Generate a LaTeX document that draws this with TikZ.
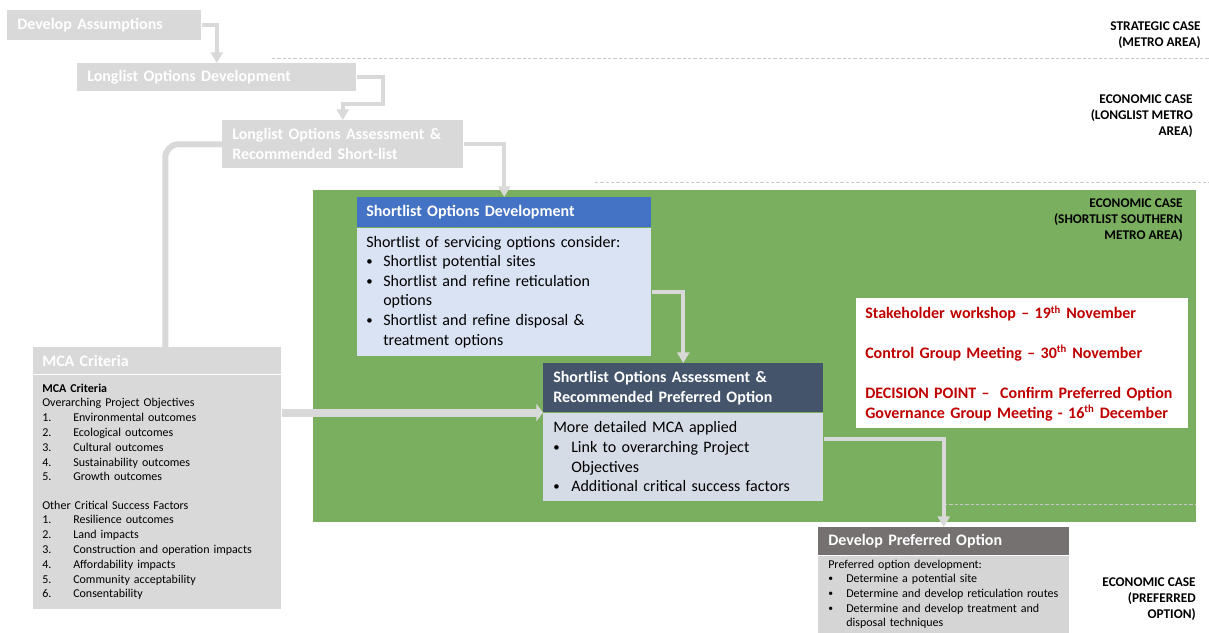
\documentclass[tikz,border=0pt]{standalone}
\usepackage{fontspec}
\setmainfont{Carlito}
\usetikzlibrary{positioning,arrows.meta}

\definecolor{boxgray}{HTML}{D9D9D9}
\definecolor{casegreen}{HTML}{79AF5E}
\definecolor{hdrblue}{HTML}{4472C4}
\definecolor{bodyblue}{HTML}{DAE3F3}
\definecolor{hdrslate}{HTML}{44546A}
\definecolor{bodyslate}{HTML}{D6DCE5}
\definecolor{hdrtaupe}{HTML}{767171}
\definecolor{bodytaupe}{HTML}{D5D5D5}
\definecolor{decred}{HTML}{C00000}
\definecolor{guidegray}{HTML}{C8C8C8}

\hyphenpenalty=10000
\exhyphenpenalty=10000

% bullet and numbered lines with hanging indent
\newcommand\bul[2][12.75pt]{\par\hangindent=#1\hangafter=1\noindent\makebox[#1][l]{\raisebox{0.15ex}{\scalebox{0.8}{\textbullet}}}#2}
\newcommand\numitem[2]{\par\hangindent=23.25pt\hangafter=1\noindent\makebox[23.25pt][l]{#1.}#2}

\begin{document}
\begin{tikzpicture}[x=0.75pt,y=-0.75pt,
  hdr/.style={anchor=north west,inner ysep=0pt,align=left,text=white,
    font=\bfseries\fontsize{12}{15}\selectfont},
  bodytext/.style={anchor=north,inner ysep=0pt,align=left,text=black,
    font=\fontsize{12}{14.7}\selectfont},
  smalltext/.style={anchor=north,inner ysep=0pt,align=left,text=black,
    font=\fontsize{9}{11}\selectfont},
  caselabel/.style={anchor=east,inner sep=0pt,align=right,
    font=\bfseries\fontsize{10}{12}\selectfont},
  flow/.style={draw=boxgray,line width=3pt,-{Triangle[length=8pt,width=9pt]}},
  bigflow/.style={draw=boxgray,line width=6pt,-{Triangle[length=5pt,width=13pt]}},
  guide/.style={draw=guidegray,line width=0.6pt,dash pattern=on 2.5pt off 1.5pt}
]
\useasboundingbox (0,0) rectangle (1209,632);

% shortlist stage background
\fill[casegreen] (313,190) rectangle (1196,522);

% case guides
\draw[guide] (272,58) -- (1209,58);
\draw[guide] (595,182) -- (1209,182);
\draw[guide] (944,504) -- (1195,504);

% longlist stage
\node[hdr,fill=boxgray,inner xsep=7.5pt,text width=130.5pt,minimum height=22.5pt] (devA) at (7,10) {Develop Assumptions};
\node[hdr,fill=boxgray,inner xsep=7.5pt,text width=194.25pt,minimum height=21pt] (longDev) at (77,63) {Longlist Options Development};
\node[hdr,fill=boxgray,inner xsep=7.5pt,text width=165.75pt,minimum height=36pt] (longAss) at (222,120) {Longlist Options Assessment \&\\Recommended Short-list};

% MCA criteria
\node[hdr,fill=boxgray,inner xsep=6.75pt,text width=172.5pt,minimum height=20.25pt] (mcaHead) at (33,347) {MCA Criteria};
\node[smalltext,fill=boxgray,inner xsep=6.75pt,text width=172.5pt,minimum height=175.5pt,
  font=\fontsize{9}{11.1}\selectfont] (mcaBody) at (mcaHead.south) {%
  \textbf{MCA Criteria}\par
  Overarching Project Objectives
  \numitem{1}{Environmental outcomes}
  \numitem{2}{Ecological outcomes}
  \numitem{3}{Cultural outcomes}
  \numitem{4}{Sustainability outcomes}
  \numitem{5}{Growth outcomes}\par\vspace{10pt}
  Other Critical Success Factors
  \numitem{1}{Resilience outcomes}
  \numitem{2}{Land impacts}
  \numitem{3}{Construction and operation impacts}
  \numitem{4}{Affordability impacts}
  \numitem{5}{Community acceptability}
  \numitem{6}{Consentability}\par};

% shortlist stage
\node[hdr,fill=hdrblue,inner xsep=6.75pt,text width=207pt,minimum height=22.5pt] (sdHead) at (357,197) {Shortlist Options Development};
\node[bodytext,fill=bodyblue,inner xsep=6.75pt,text width=207pt,minimum height=96pt] (sdBody) at (sdHead.south) {%
  Shortlist of servicing options consider:
  \bul{Shortlist potential sites}
  \bul{Shortlist and refine reticulation options}
  \bul{Shortlist and refine disposal \& treatment options}\par};

\node[hdr,fill=hdrslate,inner xsep=7.5pt,text width=195pt,minimum height=36.75pt] (asHead) at (543,363) {Shortlist Options Assessment \&\\Recommended Preferred Option};
\node[bodytext,fill=bodyslate,inner xsep=7.5pt,text width=195pt,minimum height=66pt] (asBody) at (asHead.south) {%
  More detailed MCA applied
  \bul[13.5pt]{Link to overarching Project Objectives}
  \bul[13.5pt]{Additional critical success factors}\par};

\node[hdr,fill=white,text=decred,inner xsep=6.75pt,text width=235.5pt,minimum height=97.5pt] (meetings) at (856,298) {%
  Stakeholder workshop -- 19\textsuperscript{th} November\\[14.7pt]
  Control Group Meeting -- 30\textsuperscript{th} November\\[14.7pt]
  DECISION POINT --\ \ Confirm Preferred Option\\
  Governance Group Meeting - 16\textsuperscript{th} December};

% preferred option
\node[hdr,fill=hdrtaupe,inner xsep=7.5pt,text width=173.25pt,minimum height=21pt] (dpHead) at (818,527) {Develop Preferred Option};
\node[smalltext,fill=bodytaupe,inner xsep=7.5pt,text width=173.25pt,minimum height=57.75pt] (dpBody) at (dpHead.south) {%
  Preferred option development:
  \bul[13.5pt]{Determine a potential site}
  \bul[13.5pt]{Determine and develop reticulation routes}
  \bul[13.5pt]{Determine and develop treatment and disposal techniques}\par};

% case labels
\node[caselabel] (caseStrat) at (1201,35) {STRATEGIC CASE\\(METRO AREA)};
\node[caselabel] (caseLong) at (1193,116) {ECONOMIC CASE\\(LONGLIST METRO\\AREA)};
\node[caselabel] (caseShort) at (1183,220) {ECONOMIC CASE\\(SHORTLIST SOUTHERN\\METRO AREA)};
\node[caselabel] (casePref) at (1196,599) {ECONOMIC CASE\\(PREFERRED\\OPTION)};

% connectors
\draw[flow] (devA.east) -| (longDev.north);
\draw[flow] (longDev.east) -- ++(26,0) -- ++(0,27) -| (longAss.north);
\draw[flow] (longAss.east) -| (sdHead.north);
\draw[draw=boxgray,line width=4.5pt,rounded corners=10pt] (longAss.west) -| ([xshift=6pt]mcaHead.north);
\draw[flow] (sdBody.east) -| (asHead.north);
\draw[bigflow] (mcaBody.east |- asHead.south west) -- (asHead.south west);
\draw[flow] ([yshift=13.5pt]asBody.east) -| (dpHead.north);
\end{tikzpicture}
\end{document}
